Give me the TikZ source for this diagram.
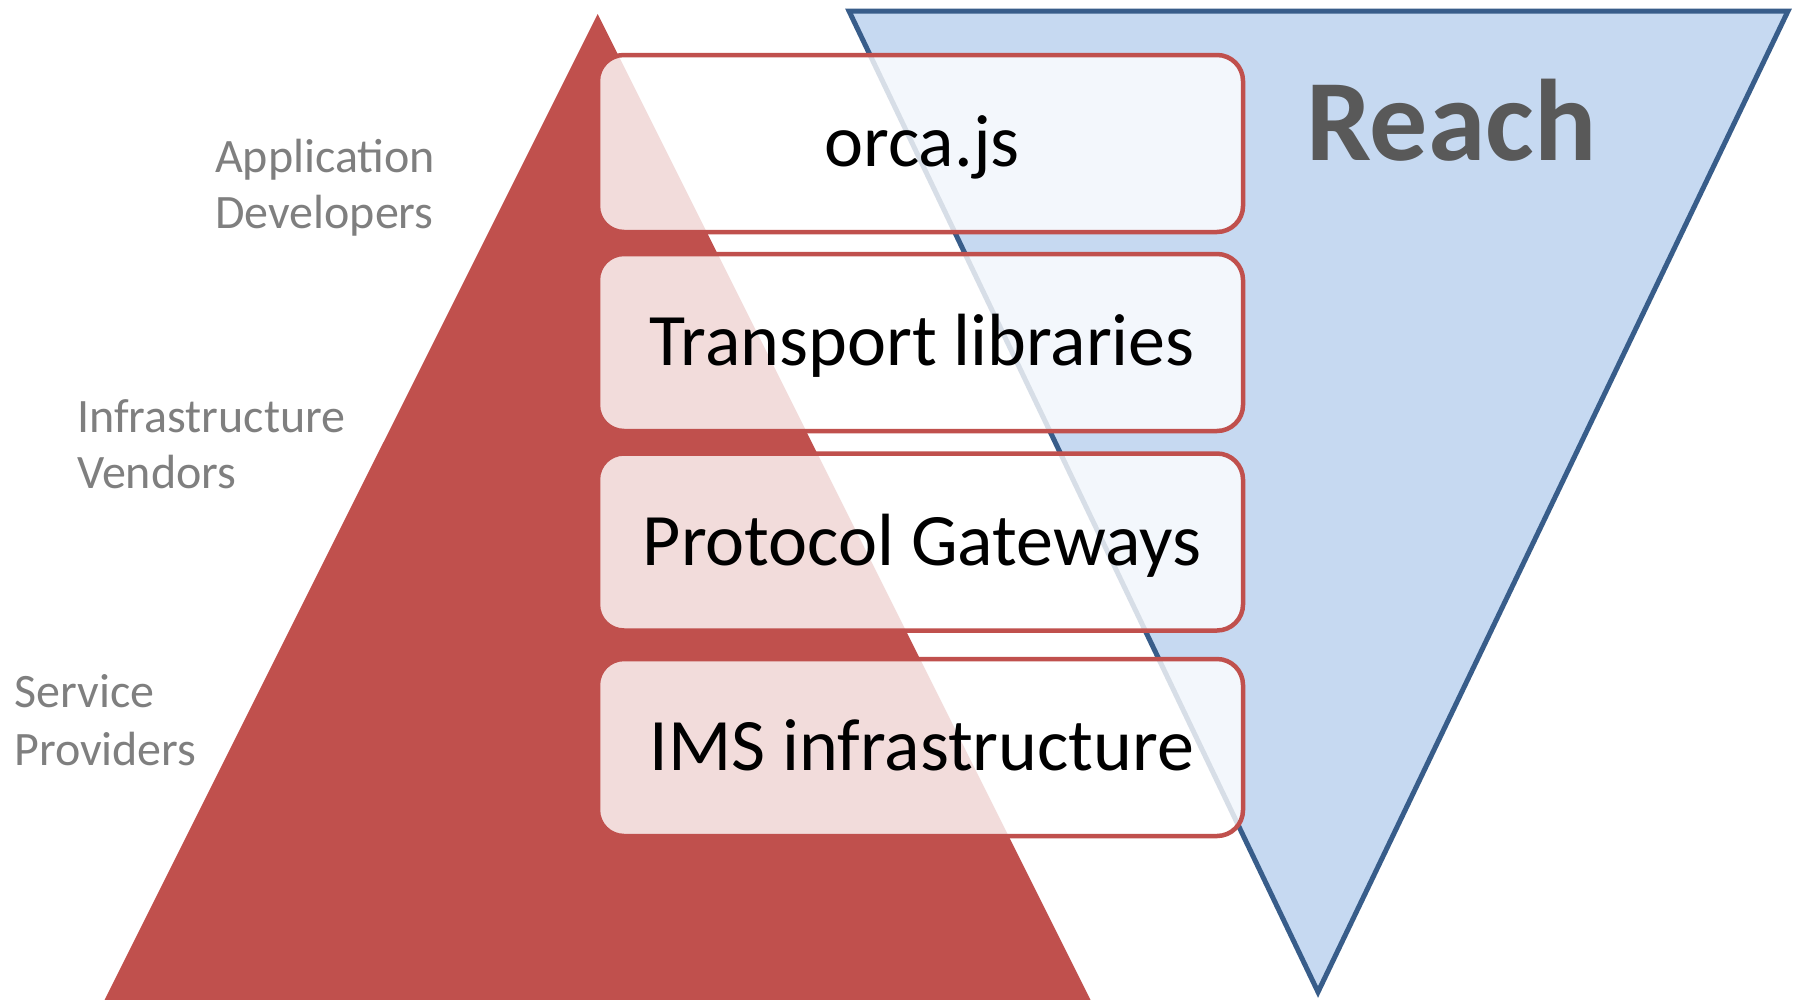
\documentclass[tikz,border=0pt]{standalone}
\usepackage{fontspec}
\setmainfont{Carlito}
\definecolor{redc}{HTML}{C0504D}
\definecolor{bluef}{HTML}{C6D9F1}
\definecolor{bluel}{HTML}{385D8A}
\definecolor{labgray}{HTML}{7F7F7F}
\definecolor{reachgray}{HTML}{595959}
\begin{document}
\begin{tikzpicture}[x=1pt,y=-1pt,
  layerbox/.style={draw=redc, line width=4.5pt, fill=white, fill opacity=0.8, draw opacity=1,
    rounded corners=26pt, minimum width=645pt, minimum height=177pt, inner sep=0pt, outer sep=0pt},
  boxtext/.style={font=\fontsize{74}{74}\selectfont, text=black, inner sep=0pt, anchor=base},
  sidelabel/.style={font=\fontsize{48}{48}\selectfont, text=labgray, inner sep=0pt, anchor=base west},
  reachtext/.style={font=\bfseries\fontsize{116}{116}\selectfont, text=reachgray, inner sep=0pt, anchor=base west}]
\fill[white] (0,0) rectangle (1798,999);
\useasboundingbox (0,0) rectangle (1798,999);
\clip (0,0) rectangle (1798,999);
% red pyramid
\fill[redc] (597.7,14) -- (92,1025) -- (1103,1025) -- cycle;
% blue inverted triangle
\filldraw[fill=bluef, draw=bluel, line width=5pt, line join=miter] (849,11) -- (1788,11) -- (1318,992) -- cycle;
% layer boxes
\node[layerbox] (b1) at (920.5,143.5) {};
\node[layerbox] (b2) at (920.5,342.5) {};
\node[layerbox] (b3) at (920.5,542) {};
\node[layerbox] (b4) at (920.5,747.5) {};
\node[boxtext] (t1) at ([xshift=1.5pt,yshift=-23pt]b1.center) {orca.js};
\node[boxtext] (t2) at ([xshift=1.5pt,yshift=-23pt]b2.center) {Transport libraries};
\node[boxtext] (t3) at ([xshift=1.5pt,yshift=-23pt]b3.center) {Protocol Gateways};
\node[boxtext] (t4) at ([xshift=1.5pt,yshift=-23pt]b4.center) {IMS infrastructure};
% side labels
\node[sidelabel] (ad1) at (215,172) {Application};
\node[sidelabel] (ad2) at (215,228) {Developers};
\node[sidelabel] (iv1) at (77,432) {Infrastructure};
\node[sidelabel] (iv2) at (77,488) {Vendors};
\node[sidelabel] (sp1) at (14,707) {Service};
\node[sidelabel] (sp2) at (14,765) {Providers};
% reach
\node[reachtext] (reach) at (1306,160) {Reach};
\end{tikzpicture}
\end{document}
